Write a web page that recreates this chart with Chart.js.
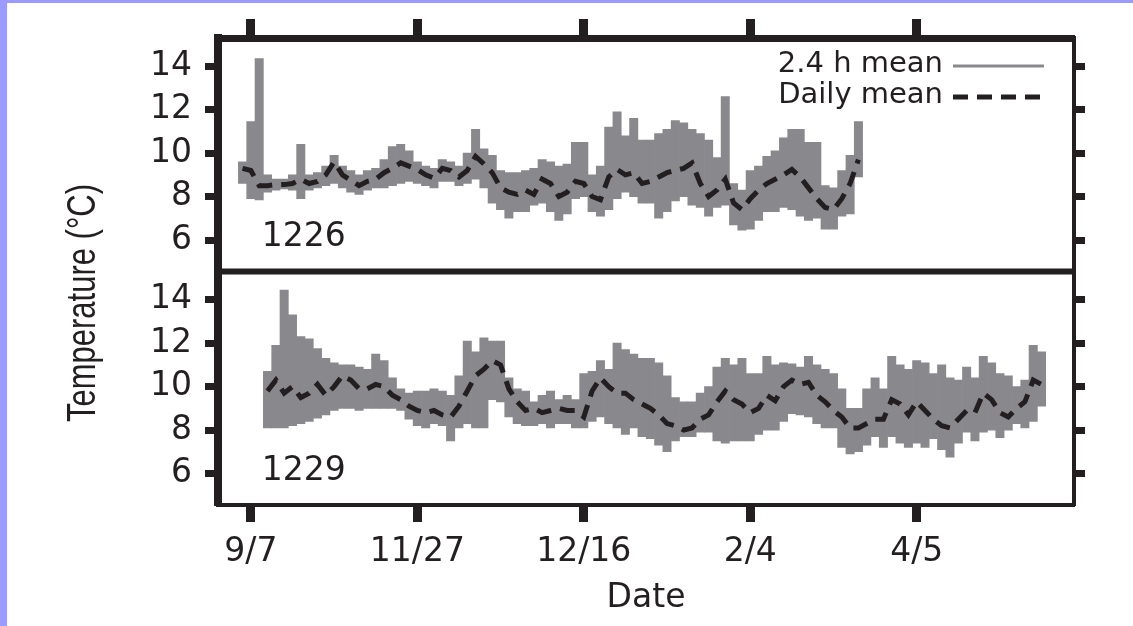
<!DOCTYPE html>
<html>
<head>
<meta charset="utf-8">
<title>Temperature 1226 / 1229</title>
<script src="https://cdn.jsdelivr.net/npm/chart.js@4.4.1/dist/chart.umd.min.js"></script>
<style>
  html, body { margin: 0; padding: 0; background: #fff; }
  body { position: relative; width: 1133px; height: 626px; overflow: hidden; }
  .edge { position: absolute; background: #9b9bfd; }
  .edge.left { left: 0; top: 0; width: 7px; height: 626px; }
  .edge.top { left: 0; top: 0; width: 1133px; height: 3px; }
  #chart { position: absolute; left: 0; top: 0; }
</style>
</head>
<body>
<div class="edge left"></div>
<div class="edge top"></div>
<canvas id="chart" width="1133" height="626"></canvas>

<script>
// axis labels
const dateLabels = ['9/7', '11/27', '12/16', '2/4', '4/5'];
const dateTicks = [0, 40, 80, 120, 160];
const tempTicks = [6, 8, 10, 12, 14];
const sensorNames = ['1226', '1229'];
const seriesNames = ['2.4 h mean', 'Daily mean'];

// one sample every 2 days, first sample day for each logger
const sampleStep = 2;
const topStart = -2;
const bottomStart = 4;

// logger 1226
const topHigh = [9.6, 11.45, 14.35, 9.0, 8.8, 8.8, 9.0, 10.4, 9.0, 9.1, 9.4, 9.9, 9.4, 9.2, 9.0,
  9.2, 9.3, 9.7, 10.3, 10.4, 10.1, 9.6, 9.4, 9.3, 9.7, 9.6, 9.4, 10.0, 11.1, 10.2,
  9.9, 9.2, 9.1, 9.1, 9.2, 9.3, 9.7, 9.6, 9.4, 9.5, 10.5, 10.5, 9.0, 9.4, 11.2,
  11.9, 10.8, 11.6, 10.6, 10.6, 10.9, 11.1, 11.5, 11.4, 11.1, 10.9, 10.6, 9.8, 12.6, 8.6,
  8.3, 9.2, 9.4, 9.85, 10.1, 10.7, 11.1, 11.1, 10.5, 10.5, 8.5, 8.4, 9.2, 9.9, 11.45];
const topLow = [8.6, 7.9, 7.85, 8.2, 8.3, 8.35, 8.3, 7.9, 8.3, 8.4, 8.5, 8.6, 8.4, 8.2, 8.1,
  8.3, 8.4, 8.4, 8.5, 8.6, 8.7, 8.6, 8.5, 8.4, 8.7, 8.7, 8.5, 8.6, 8.8, 8.4,
  7.7, 7.4, 7.0, 7.3, 7.3, 7.6, 7.7, 7.3, 6.9, 7.2, 7.9, 8.0, 7.3, 7.1, 7.4,
  7.9, 8.2, 8.0, 7.7, 7.7, 7.0, 7.3, 7.8, 8.0, 7.6, 7.5, 7.1, 7.5, 7.6, 6.7,
  6.45, 6.5, 6.9, 7.3, 7.3, 7.5, 7.4, 7.1, 6.9, 7.0, 6.5, 6.5, 7.1, 7.2, 8.9];
const topDaily = [9.3, 9.2, 8.5, 8.5, 8.55, 8.55, 8.6, 8.8, 8.6, 8.7, 9.0, 9.6, 9.0, 8.75, 8.5,
  8.7, 8.8, 9.1, 9.3, 9.55, 9.4, 9.25, 9.0, 8.85, 9.3, 9.2, 8.9, 9.2, 9.85, 9.5,
  9.1, 8.4, 8.2, 8.1, 8.3, 8.1, 8.8, 8.6, 8.0, 8.2, 8.7, 8.6, 8.0, 7.85, 8.9,
  9.25, 9.0, 9.1, 8.6, 8.7, 8.9, 9.1, 9.2, 9.3, 9.55, 8.6, 8.0, 8.3, 8.8, 7.7,
  7.4, 7.9, 8.3, 8.6, 8.8, 9.0, 9.25, 8.9, 8.4, 7.9, 7.5, 7.4, 7.9, 8.6, 9.7];

// logger 1229
const bottomHigh = [10.7, 11.9, 14.45, 13.3, 12.3, 12.2, 11.75, 11.3, 11.1, 11.0, 11.0, 10.9, 10.8, 11.5, 11.2,
  10.4, 9.9, 9.7, 9.8, 9.8, 9.9, 9.8, 9.6, 10.5, 12.1, 11.6, 12.25, 12.1, 12.1, 10.4,
  9.9, 9.8, 9.3, 9.6, 9.8, 9.4, 9.6, 9.4, 10.6, 10.7, 11.2, 10.8, 12.0, 11.7, 11.5,
  11.3, 11.3, 11.1, 10.5, 9.5, 9.3, 9.3, 9.7, 10.0, 10.9, 11.3, 11.0, 11.3, 10.6, 10.6,
  11.4, 11.0, 11.1, 11.05, 10.9, 11.4, 11.0, 10.8, 10.6, 9.9, 9.0, 9.0, 9.9, 10.4, 9.9,
  11.4, 11.0, 10.8, 11.2, 11.1, 10.6, 11.0, 10.4, 10.3, 10.9, 10.4, 11.4, 11.1, 10.6, 10.5,
  10.0, 10.3, 11.9, 11.6];
const bottomLow = [8.1, 8.1, 8.1, 8.2, 8.3, 8.4, 8.55, 8.7, 8.9, 9.0, 9.0, 8.9, 9.0, 9.0, 9.0,
  9.0, 8.9, 8.5, 8.2, 8.1, 8.3, 8.2, 7.5, 8.1, 8.3, 8.1, 8.1, 9.4, 9.3, 8.6,
  8.3, 8.2, 8.2, 8.3, 8.1, 8.3, 8.3, 8.1, 8.1, 8.4, 8.6, 8.3, 8.1, 7.8, 8.1,
  7.7, 7.6, 7.3, 7.0, 7.5, 7.7, 7.7, 7.9, 7.9, 7.5, 7.4, 7.5, 7.5, 7.5, 7.8,
  8.0, 8.0, 8.4, 8.75, 8.7, 8.6, 8.3, 8.1, 8.1, 7.2, 6.9, 7.0, 7.3, 7.7, 7.2,
  7.7, 7.4, 7.2, 7.4, 7.2, 7.6, 7.1, 6.75, 7.4, 7.9, 7.5, 7.9, 8.0, 7.65, 8.0,
  8.3, 8.1, 8.4, 9.1];
const bottomDaily = [9.8, 10.3, 9.7, 10.0, 9.5, 9.7, 10.1, 9.6, 10.0, 10.5, 10.3, 9.9, 9.9, 10.1, 10.0,
  9.6, 9.4, 9.1, 8.9, 8.8, 8.9, 8.7, 8.6, 9.1, 9.8, 10.5, 10.8, 11.2, 11.0, 9.9,
  9.3, 8.9, 9.0, 8.8, 8.9, 9.0, 8.9, 8.9, 8.6, 9.8, 10.4, 10.0, 9.7, 9.7, 9.4,
  9.2, 9.0, 8.7, 8.3, 8.2, 8.0, 8.1, 8.5, 8.7, 9.3, 9.8, 9.4, 9.2, 8.8, 9.0,
  9.6, 9.35, 10.0, 10.3, 10.1, 10.2, 9.6, 9.3, 8.9, 8.6, 8.1, 8.1, 8.3, 8.5, 8.5,
  9.4, 9.2, 8.7, 9.3, 8.9, 8.5, 8.2, 8.1, 8.5, 8.9, 8.8, 9.7, 9.4, 8.8, 8.6,
  9.0, 9.3, 10.3, 10.1];

const INK = '#231f20';
const GREY = '#89898d';

Chart.defaults.font.family = "'DejaVu Sans', sans-serif";
Chart.defaults.font.size = 33;
Chart.defaults.color = INK;

function rangeBars(start, high, low) {
  return high.map((h, i) => ({ x: start + i * sampleStep, y: [low[i], h] }));
}

function meanLine(start, values) {
  return values.map((v, i) => ({ x: start + i * sampleStep, y: v }));
}

function panelSets(axisId, start, high, low, daily) {
  return [
    {
      type: 'bar',
      label: seriesNames[0],
      xAxisID: 'x',
      yAxisID: axisId,
      data: rangeBars(start, high, low),
      backgroundColor: GREY,
      borderWidth: 0,
      grouped: false,
      barPercentage: 1,
      categoryPercentage: 1,
      order: 2,
    },
    {
      type: 'line',
      label: seriesNames[1],
      xAxisID: 'x',
      yAxisID: axisId,
      data: meanLine(start, daily),
      borderColor: INK,
      borderWidth: 5,
      borderDash: [15, 9],
      pointRadius: 0,
      tension: 0,
      order: 1,
    },
  ];
}

const xRange = { min: -7.9, max: 197.8 };
const yRange = { min: 4.55, max: 15.3 };

function dateAxis(position, showLabels, tickLength, borderWidth, height) {
  return {
    type: 'linear',
    position,
    min: xRange.min,
    max: xRange.max,
    offset: false,
    afterBuildTicks: (scale) => { scale.ticks = dateTicks.map((v) => ({ value: v })); },
    afterFit: (scale) => { scale.height = height; },
    ticks: {
      display: showLabels,
      autoSkip: false,
      maxRotation: 0,
      padding: 11,
      callback: (v) => dateLabels[dateTicks.indexOf(v)],
    },
    grid: { offset: false, drawOnChartArea: false, tickLength, tickWidth: 9, tickColor: INK },
    border: { width: borderWidth, color: INK },
  };
}

function tempAxis(position, stack, showLabels, tickLength, borderWidth, width) {
  return {
    type: 'linear',
    position,
    stack,
    stackWeight: 1,
    min: yRange.min,
    max: yRange.max,
    afterBuildTicks: (scale) => { scale.ticks = tempTicks.map((v) => ({ value: v })); },
    afterFit: (scale) => { scale.width = width; },
    ticks: { display: showLabels, autoSkip: false, padding: 13 },
    grid: { drawOnChartArea: false, tickLength, tickWidth: 7, tickColor: INK },
    border: { width: borderWidth, color: INK },
  };
}

// thick rule between the two logger panels
const panelDivider = {
  id: 'panelDivider',
  afterDatasetsDraw(chart, args, opts) {
    const { ctx, chartArea } = chart;
    const y = chart.scales.yTop.bottom;
    ctx.save();
    ctx.fillStyle = opts.color;
    ctx.fillRect(chartArea.left, y - opts.width / 2, chartArea.width, opts.width);
    ctx.restore();
  },
};

// logger number in the lower left of each panel
const sensorTags = {
  id: 'sensorTags',
  afterDatasetsDraw(chart, args, opts) {
    const { ctx, scales } = chart;
    ctx.save();
    ctx.font = opts.font;
    ctx.fillStyle = opts.color;
    ctx.textAlign = 'left';
    ctx.textBaseline = 'middle';
    ['yTop', 'yBot'].forEach((id, i) => {
      ctx.fillText(sensorNames[i], scales.x.getPixelForValue(opts.x), scales[id].getPixelForValue(opts.y));
    });
    ctx.restore();
  },
};

// legend drawn inside the upper panel, sample to the right of the text
const insetLegend = {
  id: 'insetLegend',
  afterDatasetsDraw(chart, args, opts) {
    const { ctx, chartArea } = chart;
    const items = chart.data.datasets.filter((ds) => ds.yAxisID === 'yTop');
    const x2 = chartArea.right - opts.right;
    const x1 = x2 - opts.sample;
    ctx.save();
    ctx.font = opts.font;
    ctx.textAlign = 'right';
    ctx.textBaseline = 'alphabetic';
    items.forEach((ds, i) => {
      const base = chartArea.top + opts.top + i * opts.row;
      const isLine = ds.type === 'line';
      ctx.fillStyle = opts.color;
      ctx.fillText(ds.label, x1 - opts.gap, base);
      ctx.beginPath();
      ctx.strokeStyle = isLine ? ds.borderColor : ds.backgroundColor;
      ctx.lineWidth = isLine ? ds.borderWidth : opts.barLine;
      ctx.setLineDash(isLine ? ds.borderDash : []);
      ctx.moveTo(x1, base - opts.lift);
      ctx.lineTo(x2, base - opts.lift);
      ctx.stroke();
    });
    ctx.restore();
  },
};

// shared y title spanning both panels
const sideTitle = {
  id: 'sideTitle',
  afterDraw(chart, args, opts) {
    const { ctx } = chart;
    ctx.save();
    ctx.translate(opts.x, opts.y);
    ctx.scale(opts.stretch, 1);
    ctx.rotate(-Math.PI / 2);
    ctx.font = opts.font;
    ctx.fillStyle = opts.color;
    ctx.textAlign = 'center';
    ctx.textBaseline = 'alphabetic';
    ctx.fillText(opts.text, 0, 0);
    ctx.restore();
  },
};

const bottomAxis = dateAxis('bottom', true, 17, 4, 121);
bottomAxis.title = { display: true, text: 'Date', color: INK, padding: { top: 0, bottom: 8 } };

const canvas = document.getElementById('chart');
const chart = new Chart(canvas, {
  type: 'bar',
  data: {
    datasets: [
      ...panelSets('yTop', topStart, topHigh, topLow, topDaily),
      ...panelSets('yBot', bottomStart, bottomHigh, bottomLow, bottomDaily),
    ],
  },
  options: {
    responsive: false,
    devicePixelRatio: 1,
    animation: false,
    layout: { padding: 0 },
    scales: {
      x: bottomAxis,
      xTop: dateAxis('top', false, 19, 7, 38),
      // left stack is laid out last-defined first, so the lower panel comes first here
      yBot: tempAxis('left', 'temps', true, 13, 8, 218),
      yTop: tempAxis('left', 'temps', true, 13, 8, 218),
      yTopR: tempAxis('right', 'tempsR', false, 11, 4, 59),
      yBotR: tempAxis('right', 'tempsR', false, 11, 4, 59),
    },
    plugins: {
      legend: { display: false },
      tooltip: { enabled: false },
      panelDivider: { color: INK, width: 6 },
      sensorTags: { font: "33px 'DejaVu Sans'", color: INK, x: 2.6, y: 6.1 },
      insetLegend: {
        font: "29px 'DejaVu Sans'", color: INK,
        top: 34, row: 31, right: 30, sample: 91, gap: 10, lift: 6, barLine: 3,
      },
      sideTitle: {
        text: 'Temperature (°C)', font: "31px 'Liberation Sans'", color: INK,
        x: 95, y: 303, stretch: 1.3,
      },
    },
  },
  plugins: [panelDivider, sensorTags, insetLegend, sideTitle],
});
</script>
</body>
</html>
